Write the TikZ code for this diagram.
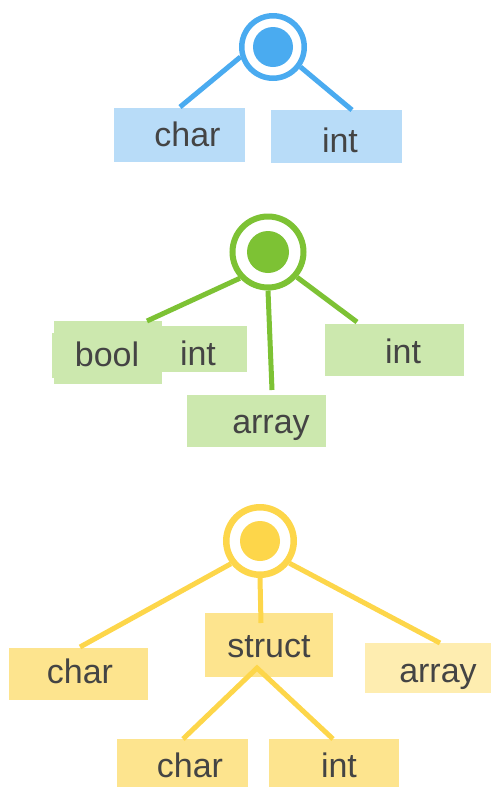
\documentclass[tikz,border=0pt]{standalone}
\usepackage{fontspec}
\setmainfont{Liberation Sans}
\definecolor{bstroke}{HTML}{4AABF0}
\definecolor{bfill}{HTML}{B8DCF8}
\definecolor{gstroke}{HTML}{7DC234}
\definecolor{gfill}{HTML}{CCE8AE}
\definecolor{ystroke}{HTML}{FDD64A}
\definecolor{yfill}{HTML}{FDE48E}
\definecolor{ylight}{HTML}{FEEDB0}
\definecolor{txt}{HTML}{444444}
\begin{document}
\begin{tikzpicture}[x=1pt,y=-1pt,
  ring/.style={circle, draw=#1, fill=white, inner sep=0pt},
  tbox/.style={rectangle, fill=#1, draw=none, inner sep=0pt},
  lbl/.style={anchor=base, inner sep=0pt, text=txt, font=\fontsize{34}{40}\selectfont},
  link/.style={draw=#1, line width=5pt}]
\useasboundingbox (0,0) rectangle (491,788);

% ---------- blue tree ----------
\node[tbox=bfill, minimum width=131pt, minimum height=54pt] (b1) at (179.5,135) {};
\node[tbox=bfill, minimum width=131pt, minimum height=53pt] (b2) at (336.5,136.5) {};
\node[lbl] (tb1) at (187.5,146) {char};
\node[lbl] (tb2) at (340,152) {int};
\node[ring=bstroke, line width=5.5pt, minimum size=62.5pt] (bc) at (273,47) {};
\fill[bstroke] (bc.center) circle[radius=20pt];
\coordinate (be1) at (180,107);
\coordinate (be2) at (352,110);
\draw[link=bstroke] (bc.197) -- (be1);
\draw[link=bstroke] (bc.324) -- (be2);

% ---------- green tree ----------
\fill[gfill] (52,333) rectangle (160,378);
\node[tbox=gfill, minimum width=110pt, minimum height=46pt] (g1) at (192,349) {};
\node[tbox=gfill, minimum width=108pt, minimum height=63pt] (g2) at (108,352.5) {};
\node[tbox=gfill, minimum width=139pt, minimum height=52pt] (g3) at (256.5,421) {};
\node[tbox=gfill, minimum width=139pt, minimum height=52pt] (g4) at (394.5,350) {};
\node[lbl] (tg1) at (198,365) {int};
\node[lbl] (tg2) at (107,366) {bool};
\node[lbl] (tg3) at (271,433) {array};
\node[lbl] (tg4) at (403,363) {int};
\node[ring=gstroke, line width=6pt, minimum size=71pt] (gc) at (268,252) {};
\fill[gstroke] (gc.center) circle[radius=21pt];
\coordinate (ge1) at (147,321);
\coordinate (ge2) at (272,390);
\coordinate (ge3) at (357,322);
\draw[link=gstroke] (gc.223) -- (ge1);
\draw[link=gstroke] (gc.270) -- (ge2);
\draw[link=gstroke] (gc.319) -- (ge3);

% ---------- yellow tree ----------
\node[tbox=yfill, minimum width=139pt, minimum height=52pt] (y1) at (78.5,674) {};
\node[tbox=yfill, minimum width=128pt, minimum height=64pt] (y2) at (269,645) {};
\node[tbox=ylight, minimum width=126pt, minimum height=50pt] (y3) at (428,668) {};
\node[tbox=yfill, minimum width=131pt, minimum height=48pt] (y4) at (182.5,763) {};
\node[tbox=yfill, minimum width=130pt, minimum height=48pt] (y5) at (334,763) {};
\node[lbl] (ty1) at (80,683) {char};
\node[lbl] (ty2) at (269,657) {struct};
\node[lbl] (ty3) at (438,682) {array};
\node[lbl] (ty4) at (190,777) {char};
\node[lbl] (ty5) at (339,777) {int};
\node[ring=ystroke, line width=6.5pt, minimum size=67.5pt] (yc) at (260,541) {};
\fill[ystroke] (yc.center) circle[radius=20pt];
\coordinate (ye1) at (80,647);
\coordinate (ye2) at (261,623);
\coordinate (ye3) at (440,643);
\coordinate (ys) at (257,668);
\coordinate (ye4) at (183,739);
\coordinate (ye5) at (333,739);
\draw[link=ystroke] (yc.218) -- (ye1);
\draw[link=ystroke] (yc.270) -- (ye2);
\draw[link=ystroke] (yc.323) -- (ye3);
\draw[link=ystroke] (ye4) -- (ys) -- (ye5);
\end{tikzpicture}
\end{document}
